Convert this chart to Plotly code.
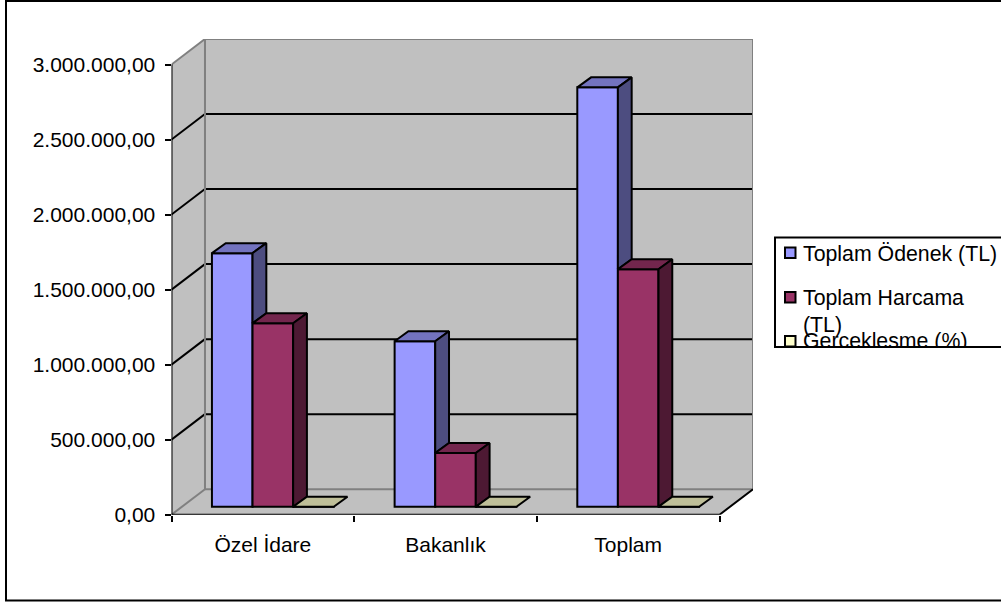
import plotly.graph_objects as go

# ---- data ----
categories = ["Özel İdare", "Bakanlık", "Toplam"]
odenek = [1690000, 1103000, 2795000]
harcama = [1223000, 358000, 1583000]
gerceklesme = [72, 32, 57]
y_ticks = [0, 500000, 1000000, 1500000, 2000000, 2500000, 3000000]
y_labels = ["0,00", "500.000,00", "1.000.000,00", "1.500.000,00",
            "2.000.000,00", "2.500.000,00", "3.000.000,00"]
series_names = ["Toplam Ödenek (TL)", "Toplam Harcama (TL)", "Gerçekleşme (%)"]

# ---- styles ----
front = ["#9999FF", "#993366", "#FFFFCC"]
top_c = ["#7373BF", "#73264D", "#BFBF99"]
side_c = ["#4D4D80", "#4D1933", "#808066"]
WALL = "#C0C0C0"
EDGE = "#808080"
W, H = 1001, 602
LW = 2
FONT = "Liberation Sans, Arial, sans-serif"

# ---- oblique projection, in data units ----
X0 = -0.5
X_FRONT_END = 2.5
WALL_DX = 0.1832          # wall depth along x
WALL_DY = 170000          # wall depth along y
BAR_DX = 0.0755
BAR_DY = 66600
BASE = 53000              # bars stand a little way back on the floor
BAR_W = 0.2222
BAR_OFF = -0.2786
YMAX = 3000000
x_end = X_FRONT_END + WALL_DX
y_end = YMAX + WALL_DY

fig = go.Figure()
shapes = []


def poly(pts, fill, layer="below"):
    path = "M " + " L ".join(f"{x},{y}" for x, y in pts) + " Z"
    shapes.append(dict(type="path", path=path, xref="x", yref="y", fillcolor=fill,
                       line=dict(width=0), layer=layer))


def seg(x0, y0, x1, y1, color):
    shapes.append(dict(type="line", xref="x", yref="y", x0=x0, y0=y0, x1=x1, y1=y1,
                       line=dict(color=color, width=LW), layer="below"))


# walls and floor
xb = X0 + WALL_DX
poly([(xb, WALL_DY), (x_end, WALL_DY), (x_end, y_end), (xb, y_end)], WALL)
poly([(X0, 0), (X0, YMAX), (xb, y_end), (xb, WALL_DY)], WALL)
poly([(X0, 0), (X_FRONT_END, 0), (x_end, WALL_DY), (xb, WALL_DY)], WALL)
# back edges
seg(xb, WALL_DY, xb, y_end, EDGE)
seg(xb, WALL_DY, x_end, WALL_DY, EDGE)
seg(X0, 0, xb, WALL_DY, EDGE)
# gridlines
for v in y_ticks[1:-1]:
    seg(X0, v, xb, v + WALL_DY, "#000000")
    seg(xb, v + WALL_DY, x_end, v + WALL_DY, "#000000")


def line_trace(xs, ys, color, width=LW):
    fig.add_trace(go.Scatter(x=xs, y=ys, mode="lines", line=dict(color=color, width=width),
                             cliponaxis=False, showlegend=False, hoverinfo="skip"))


# outer furniture that sits on the plot-area boundary
line_trace([xb, xb, x_end, x_end], [WALL_DY, y_end, y_end, WALL_DY], EDGE)
line_trace([X0, xb], [YMAX, y_end], EDGE)
line_trace([X0, X0], [0, YMAX], "#000000")
line_trace([X0, X_FRONT_END, x_end], [0, 0, WALL_DY], "#000000")

# front faces
all_series = [odenek, harcama, gerceklesme]
for i, vals in enumerate(all_series):
    fig.add_trace(go.Bar(
        x=list(range(len(categories))), y=vals, base=BASE, width=BAR_W,
        offset=BAR_OFF + i * BAR_W, name=series_names[i],
        marker=dict(color=front[i], line=dict(color="#000000", width=LW)),
        showlegend=False, hoverinfo="skip"))


def face(xs, ys, fill):
    fig.add_trace(go.Scatter(x=xs, y=ys, mode="lines", fill="toself", fillcolor=fill,
                             line=dict(color="#000000", width=LW), cliponaxis=False,
                             showlegend=False, hoverinfo="skip"))


# depth faces: each side runs down to the top of the next, nearer-right bar
for i, vals in enumerate(all_series):
    for c, v in enumerate(vals):
        left = c + BAR_OFF + i * BAR_W
        right = left + BAR_W
        t = BASE + v
        face([left, left + BAR_DX, right + BAR_DX, right, left],
             [t, t + BAR_DY, t + BAR_DY, t, t], top_c[i])
        if i < 2:
            b = BASE + all_series[i + 1][c]
            face([right, right + BAR_DX, right + BAR_DX, right, right],
                 [t, t + BAR_DY, b + BAR_DY, b, t], side_c[i])

# ---- legend, page border (in page fractions) ----
def px(x):
    return x / W


def py(y):
    return 1 - y / H


paper = [
    dict(type="rect", xref="paper", yref="paper", x0=px(6), x1=px(1010), y0=py(1), y1=py(600.5),
         line=dict(color="#000000", width=LW), fillcolor="rgba(0,0,0,0)", layer="below"),
    dict(type="rect", xref="paper", yref="paper", x0=px(775), x1=px(1010), y0=py(237.5), y1=py(347),
         line=dict(color="#000000", width=LW), fillcolor="#FFFFFF", layer="above"),
]
swatch_y = [(247.5, 258), (292, 302.5), (336, 346.5)]
for (a, b), c in zip(swatch_y, front):
    paper.append(dict(type="rect", xref="paper", yref="paper", x0=px(785), x1=px(795.5),
                      y0=py(a), y1=py(b), fillcolor=c, line=dict(color="#000000", width=LW),
                      layer="above"))


def legend_text(text, y_top, height=None):
    a = dict(text=text, xref="paper", yref="paper", x=px(802), y=py(y_top), xanchor="left",
             yanchor="top", showarrow=False, align="left", valign="top", borderpad=0,
             font=dict(family=FONT, size=21.3, color="#000000"))
    if height:
        a["height"] = height
    return a


annotations = [
    legend_text("Toplam Ödenek (TL)", 240.5),
    legend_text("Toplam Harcama", 284.5),
    legend_text("(TL)", 311.5),
    legend_text("Gerçekleşme (%)", 327.5, height=18.5),
]

fig.update_layout(
    width=W, height=H, autosize=False, margin=dict(l=0, r=0, t=0, b=0),
    paper_bgcolor="#FFFFFF", plot_bgcolor="#FFFFFF", barmode="overlay", showlegend=False,
    shapes=shapes + paper, annotations=annotations,
    font=dict(family=FONT, size=21, color="#000000"),
    xaxis=dict(domain=[171.5 / W, 753 / W], range=[X0, x_end], showgrid=False, zeroline=False,
               showline=False, tickmode="array", tickvals=list(range(len(categories))),
               ticktext=categories, ticks="", ticklabelstandoff=15, automargin=False,
               minor=dict(tickmode="array", tickvals=[-0.5, 0.5, 1.5, 2.5], ticks="outside",
                          ticklen=6, tickwidth=LW, tickcolor="#000000", showgrid=False)),
    yaxis=dict(domain=[(H - 514.7) / H, (H - 39) / H], range=[0, y_end], showgrid=False,
               zeroline=False, showline=False, tickmode="array", tickvals=y_ticks,
               ticktext=y_labels, ticks="outside", ticklen=6, tickwidth=LW,
               tickcolor="#000000", ticklabelstandoff=5, automargin=False),
)

fig.write_html("out.html", config=dict(displayModeBar=False),
               post_script="document.body.style.margin='0';document.body.style.overflow='hidden';")
